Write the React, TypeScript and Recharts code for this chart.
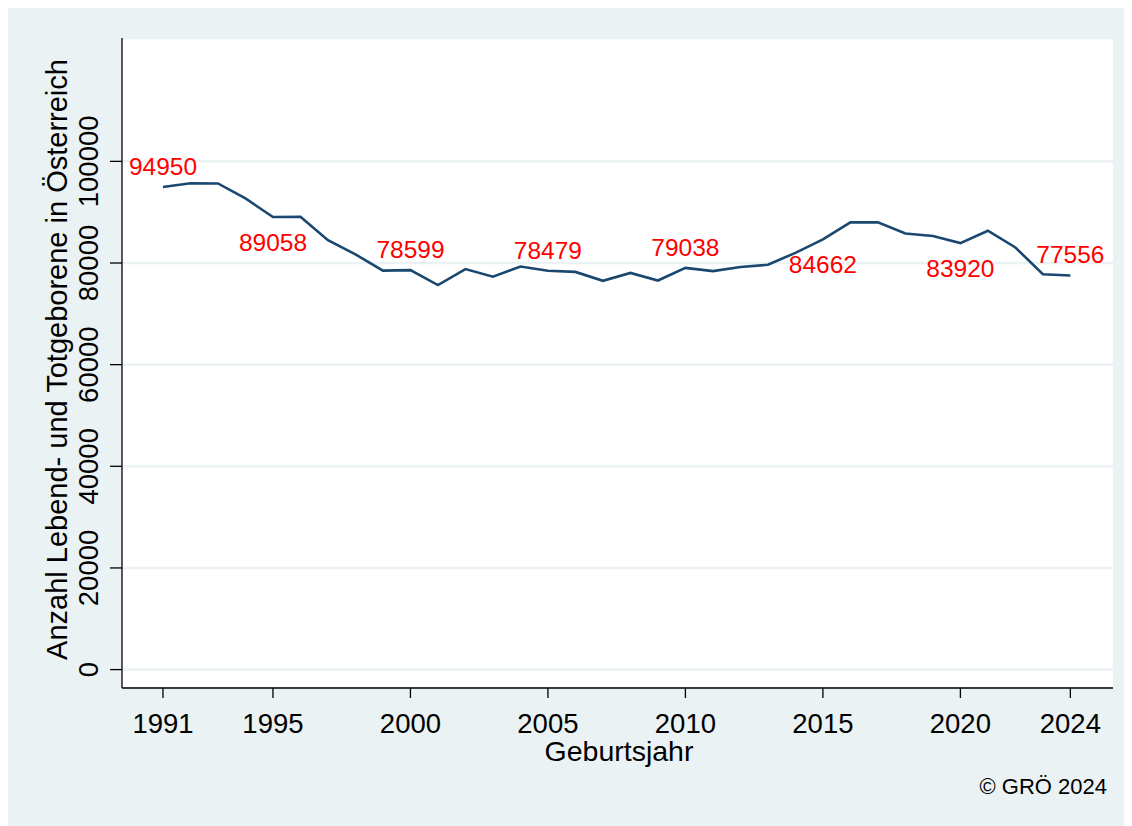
import { LineChart, Line, XAxis, YAxis, CartesianGrid, LabelList } from "recharts";

const years = [
  1991, 1992, 1993, 1994, 1995, 1996, 1997, 1998, 1999, 2000, 2001, 2002,
  2003, 2004, 2005, 2006, 2007, 2008, 2009, 2010, 2011, 2012, 2013, 2014,
  2015, 2016, 2017, 2018, 2019, 2020, 2021, 2022, 2023, 2024,
];
const births = [
  94950, 95700, 95650, 92700, 89058, 89100, 84500, 81700, 78500, 78599, 75650,
  78800, 77300, 79300, 78479, 78250, 76500, 78050, 76550, 79038, 78400, 79200,
  79650, 82000, 84662, 88000, 88000, 85800, 85300, 83920, 86350, 83050, 77800,
  77556,
];
const labelYears = [1991, 1995, 2000, 2005, 2010, 2015, 2020, 2024];
const labelBelow = [1995, 2015, 2020];
const xTicks = [1991, 1995, 2000, 2005, 2010, 2015, 2020, 2024];
const yTicks = [0, 20000, 40000, 60000, 80000, 100000];

const data = years.map((y, i) => ({ year: y, value: births[i] }));

const FONT = '"Liberation Sans", Arial, Helvetica, sans-serif';
const BG = "#eaf2f3";
const NAVY = "#1a476f";

function YTick(props: any) {
  const { x, y, payload } = props;
  const bx = x - 12;
  return (
    <text
      x={bx}
      y={y}
      transform={`rotate(-90, ${bx}, ${y})`}
      textAnchor="middle"
      fontSize={27.5}
      fontFamily={FONT}
      fill="#000"
    >
      {payload.value}
    </text>
  );
}

function PointLabel(props: any) {
  const { x, y, value, index } = props;
  const yr = years[index];
  if (!labelYears.includes(yr)) return null;
  const below = labelBelow.includes(yr);
  return (
    <text
      x={x}
      y={below ? y + 34 : y - 12}
      textAnchor="middle"
      fontSize={24.5}
      fontFamily={FONT}
      fill="#ff0000"
    >
      {value}
    </text>
  );
}

export default function App() {
  return (
    <div style={{ width: 1124, height: 818, background: BG }}>
      <LineChart
        width={1124}
        height={818}
        data={data}
        margin={{ top: 30, right: 19, bottom: 0, left: 0 }}
      >
        <CartesianGrid
          vertical={false}
          stroke={BG}
          strokeWidth={2.5}
          fill="#ffffff"
          fillOpacity={1}
        />
        <XAxis
          dataKey="year"
          type="number"
          domain={[1989.51, 2025.55]}
          allowDataOverflow
          ticks={xTicks}
          interval={0}
          height={138}
          tickSize={10}
          tickMargin={15}
          axisLine={{ stroke: "#000", strokeWidth: 1.3 }}
          tickLine={{ stroke: "#000", strokeWidth: 1.3 }}
          tick={{ fontSize: 27.5, fontFamily: FONT, fill: "#000" }}
          label={{
            content: (p: any) => {
              const vb = p.viewBox;
              return (
                <g fontFamily={FONT} fill="#000">
                  <text
                    x={vb.x + vb.width / 2 + 1.5}
                    y={vb.y + 73}
                    textAnchor="middle"
                    fontSize={28.5}
                  >
                    Geburtsjahr
                  </text>
                  <text
                    x={vb.x + vb.width - 6}
                    y={vb.y + 106}
                    textAnchor="end"
                    fontSize={22}
                  >
                    © GRÖ 2024
                  </text>
                </g>
              );
            },
          }}
        />
        <YAxis
          type="number"
          domain={[-3622, 124272]}
          allowDataOverflow
          ticks={yTicks}
          interval={0}
          width={114}
          tickSize={12}
          tickMargin={0}
          axisLine={{ stroke: "#000", strokeWidth: 1.3 }}
          tickLine={{ stroke: "#000", strokeWidth: 1.3 }}
          tick={<YTick />}
          label={{
            content: (p: any) => {
              const vb = p.viewBox;
              const cx = 58.7;
              const cy = vb.y + vb.height / 2 - 3.5;
              return (
                <text
                  x={cx}
                  y={cy}
                  transform={`rotate(-90, ${cx}, ${cy})`}
                  textAnchor="middle"
                  fontSize={29}
                  fontFamily={FONT}
                  fill="#000"
                >
                  Anzahl Lebend- und Totgeborene in Österreich
                </text>
              );
            },
          }}
        />
        <Line
          type="linear"
          dataKey="value"
          stroke={NAVY}
          strokeWidth={2.6}
          dot={false}
          isAnimationActive={false}
        >
          <LabelList dataKey="value" content={<PointLabel />} />
        </Line>
      </LineChart>
    </div>
  );
}
